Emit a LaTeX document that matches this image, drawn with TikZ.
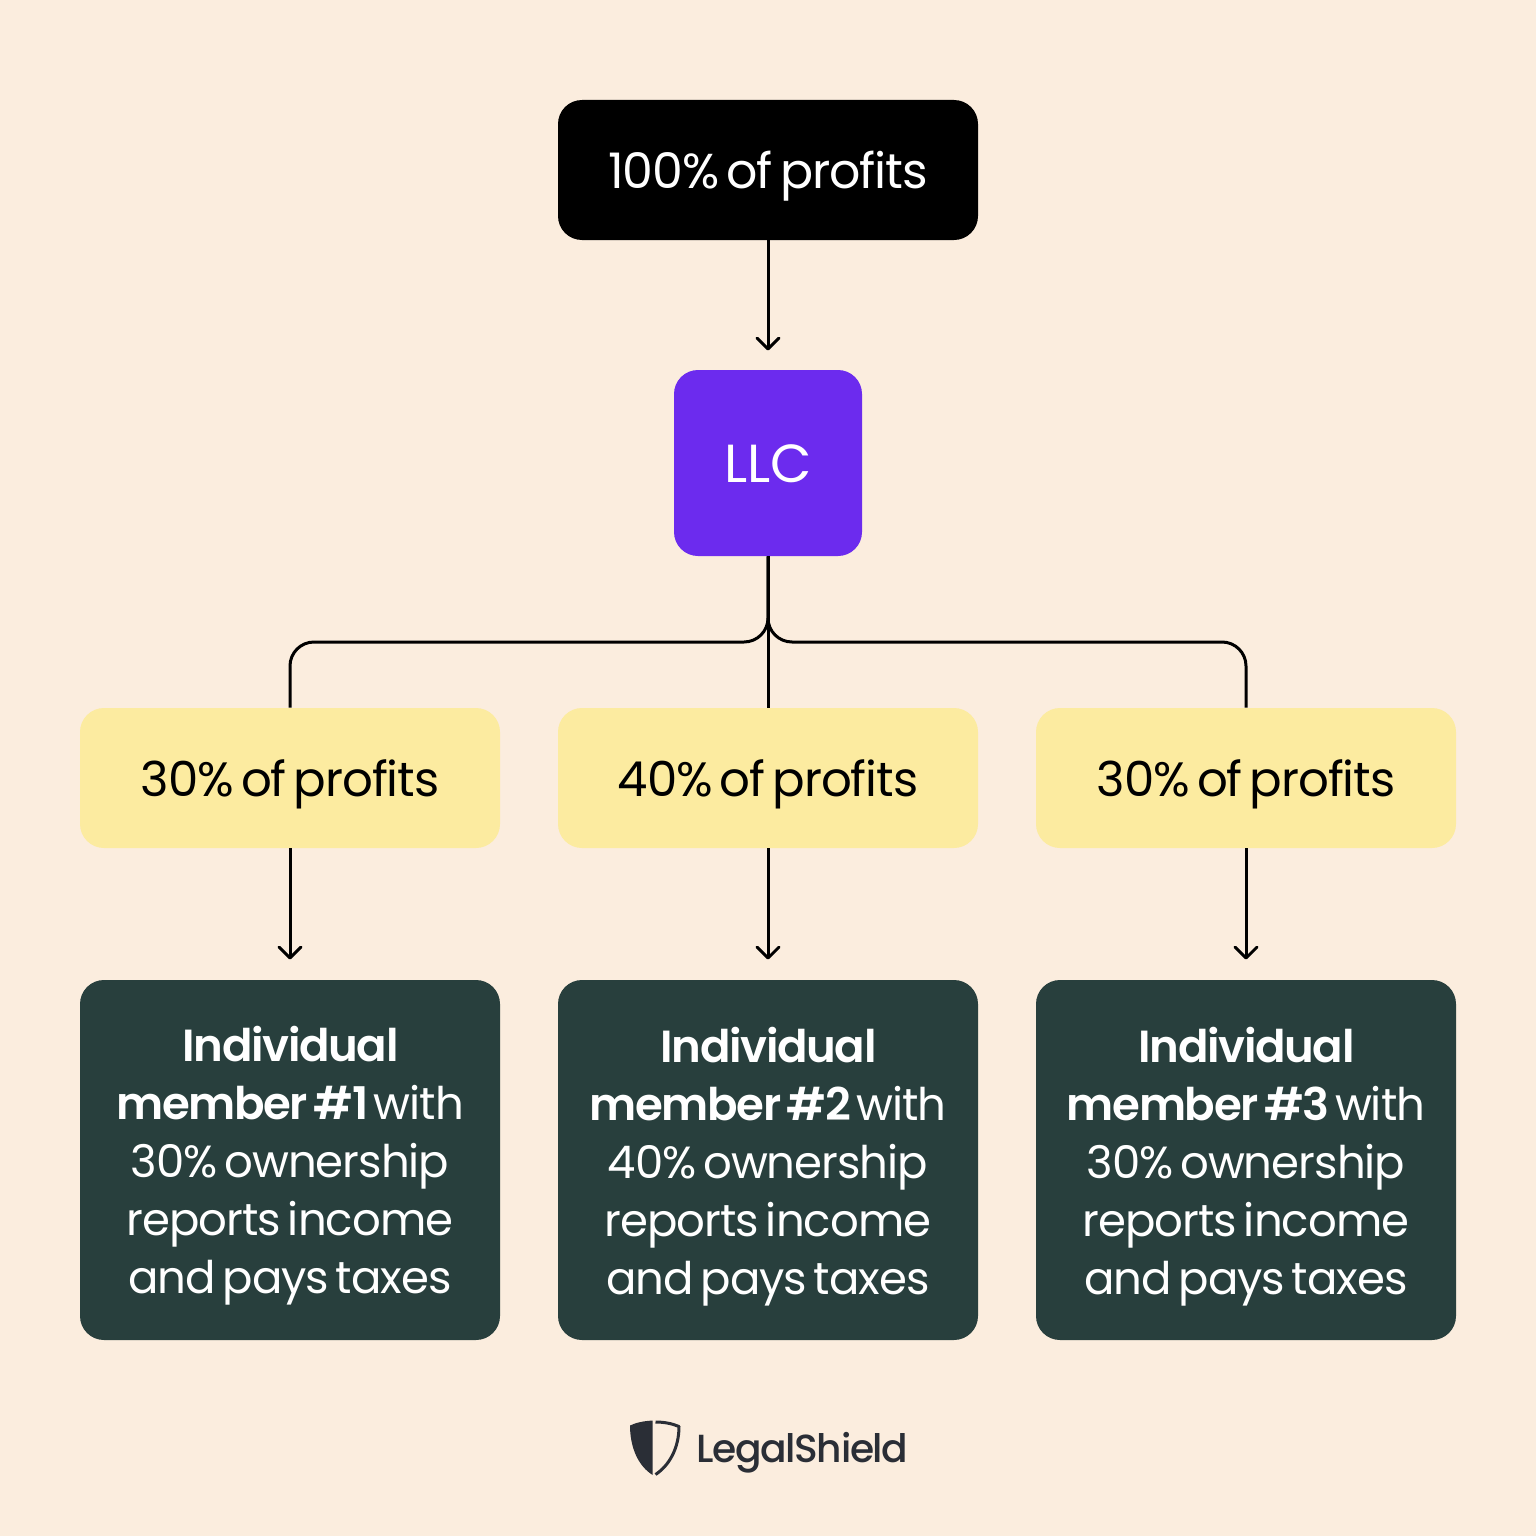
\documentclass[tikz,border=0pt]{standalone}
\usepackage{fontspec}
\setmainfont[LetterSpace=-2.2,WordSpace=0.6,BoldFont={Poppins SemiBold},BoldFeatures={LetterSpace=-3}]{Poppins}
\newfontfamily\llcfont{Poppins}
\newfontfamily\logofont[LetterSpace=-3.5]{Poppins Medium}
\usetikzlibrary{arrows.meta}
\definecolor{bgc}{HTML}{FBEDDE}
\definecolor{purp}{HTML}{6C2BEE}
\definecolor{yel}{HTML}{FCEBA0}
\definecolor{dark}{HTML}{283F3D}
\definecolor{logoc}{HTML}{2A2E36}
\tikzset{
 boxbase/.style={rectangle,rounded corners=12pt,inner sep=0pt},
 blackbox/.style={boxbase,fill=black,minimum width=210pt,minimum height=70pt},
 llcbox/.style={boxbase,fill=purp,minimum width=94pt,minimum height=93pt},
 yelbox/.style={boxbase,fill=yel,minimum width=210pt,minimum height=70pt},
 darkbox/.style={boxbase,fill=dark,minimum width=210pt,minimum height=180pt},
 toptext/.style={inner sep=0pt,align=center,font=\fontsize{24.5}{29}\selectfont},
 yeltext/.style={inner sep=0pt,align=center,font=\fontsize{24.1}{29}\selectfont},
 bodytext/.style={inner sep=0pt,align=center,text=white,font=\fontsize{22.5}{29}\selectfont},
 conn/.style={draw=black,line width=1.5pt},
 arr/.style={conn,-{Straight Barb[length=5.5pt,width=11pt,line width=1.5pt,round]},shorten >=10pt},
}
\begin{document}
\begin{tikzpicture}[x=0.5pt,y=-0.5pt]
\path[use as bounding box,fill=bgc] (0,0) rectangle (1536,1536);
\node[blackbox] (top) at (768,170) {};
\node[llcbox] (llc) at (768,463) {};
\node[yelbox] (y1) at (290,778) {};
\node[yelbox] (y2) at (768,778) {};
\node[yelbox] (y3) at (1246,778) {};
\node[darkbox] (d1) at (290,1160) {};
\node[darkbox] (d2) at (768,1160) {};
\node[darkbox] (d3) at (1246,1160) {};
\node[toptext,text=white] (ttop) at (768,176) {100\% of profits};
\node[inner sep=0pt,text=white,font=\llcfont\fontsize{26.8}{29}\selectfont] (tllc) at (768,464) {LLC};
\node[yeltext] (ty1) at (290,784) {30\% of profits};
\node[yeltext] (ty2) at (768,784) {40\% of profits};
\node[yeltext] (ty3) at (1246,784) {30\% of profits};
\node[bodytext] (td1) at (290,1166) {\textbf{Individual}\\\textbf{member \#1} with\\30\% ownership\\reports income\\and pays taxes};
\node[bodytext] (td2) at (768,1167) {\textbf{Individual}\\\textbf{member \#2} with\\40\% ownership\\reports income\\and pays taxes};
\node[bodytext] (td3) at (1246,1167) {\textbf{Individual}\\\textbf{member \#3} with\\30\% ownership\\reports income\\and pays taxes};
\coordinate (bus) at (768,642);
\draw[arr,shorten >=9.5pt] (top) -- (llc);
\draw[conn] (llc) -- (y2);
\draw[conn,rounded corners=12pt] (llc.south) -- (bus) -- (bus -| y1.north) -- (y1.north);
\draw[conn,rounded corners=12pt] (llc.south) -- (bus) -- (bus -| y3.north) -- (y3.north);
\draw[arr] (y1) -- (d1);
\draw[arr] (y2) -- (d2);
\draw[arr] (y3) -- (d3);
% logo
\fill[logoc] (652.7,1420.5) .. controls (644,1421) and (636,1422.5) .. (630,1425.5) .. controls (630,1447) and (638,1466) .. (652.7,1475) -- cycle;
\draw[logoc,line width=1.5pt,line join=round] (655.5,1422) .. controls (664,1422) and (672,1423.5) .. (679,1426.5) .. controls (679,1447) and (670,1465) .. (655.5,1474.5);
\node[inner sep=0pt,anchor=base west,text=logoc,font=\logofont\fontsize{19.6}{24}\selectfont] (logo) at (696,1462) {LegalShield};
\end{tikzpicture}
\end{document}
